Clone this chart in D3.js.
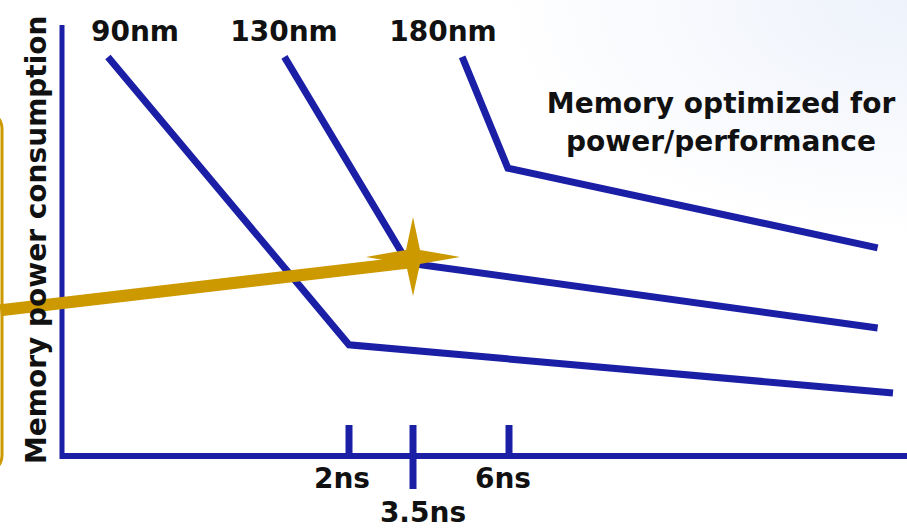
<!DOCTYPE html>
<html><head><meta charset="utf-8">
<script src="https://cdn.jsdelivr.net/npm/d3@7"></script>
<style>html,body{margin:0;padding:0;background:#fff;overflow:hidden}svg{display:block}</style>
</head><body>
<svg id="chart" width="907" height="529"></svg>
<script>
// ---- data (access time in ns, power in arbitrary units) ----
const nodes = ["90nm", "130nm", "180nm"];
const nodeTime  = [[0.32, 2.0, 16.0], [1.55, 3.38, 15.6], [4.78, 5.97, 15.6]];
const nodePower = [[92.6, 25.8, 14.6], [92.6, 44.8, 29.7], [92.6, 66.8, 48.3]];
const tickValues = [2, 3.5, 6];
const tickLabels = ["2ns", "3.5ns", "6ns"];
const goldTime  = [-0.43, 3.5];
const goldPower = [33.8, 45.0];
const starPoint = [3.5, 46.2];
const yLabel = "Memory power consumption";
const noteLines = ["Memory optimized for", "power/performance"];

const W = 907, H = 529;
const BLUE = "#1a1fa6", GOLD = "#cc9a00";
const FONT = "DejaVu Sans";
const svg = d3.select("#chart");

// subtle slide background
const defs = svg.append("defs");
const g1 = defs.append("radialGradient").attr("id","bg").attr("cx","1").attr("cy","0").attr("r","0.45");
g1.append("stop").attr("offset","0").attr("stop-color","#eef2fb");
g1.append("stop").attr("offset","1").attr("stop-color","#ffffff");
svg.append("rect").attr("width",W).attr("height",H).attr("fill","url(#bg)");

const x = d3.scaleLinear().domain([0, 2, 3.5, 6]).range([62, 349, 413, 509]);
const y = d3.scaleLinear().domain([0, 100]).range([456, 25]);

// gold rounded box on left edge
svg.append("rect").attr("x", -200).attr("y", 111).attr("width", 202).attr("height", 362)
  .attr("rx", 18).attr("fill", "none").attr("stroke", GOLD).attr("stroke-width", 3);

// axes
svg.append("line").attr("x1", 62).attr("x2", 62).attr("y1", y(100)).attr("y2", y(0) + 3)
  .attr("stroke", BLUE).attr("stroke-width", 5);
svg.append("line").attr("x1", 60).attr("x2", W).attr("y1", y(0)).attr("y2", y(0))
  .attr("stroke", BLUE).attr("stroke-width", 6);

// ticks
tickValues.forEach((t) => {
  const long = t === 3.5;
  svg.append("line").attr("x1", x(t)).attr("x2", x(t)).attr("y1", 425).attr("y2", long ? 489 : y(0))
    .attr("stroke", BLUE).attr("stroke-width", 7);
});
const tickPos = [[342, 488], [423, 522], [503, 488]];
tickLabels.forEach((l, i) => {
  svg.append("text").attr("x", tickPos[i][0]).attr("y", tickPos[i][1]).attr("text-anchor", "middle")
    .attr("font-family", FONT).attr("font-weight", "bold").attr("font-size", 28)
    .attr("fill", "#111").text(l);
});

// node lines
const line = d3.line().x(d => x(d[0])).y(d => y(d[1]));
nodes.forEach((n, i) => {
  const pts = nodeTime[i].map((t, j) => [t, nodePower[i][j]]);
  svg.append("path").attr("d", line(pts)).attr("fill", "none")
    .attr("stroke", BLUE).attr("stroke-width", 7).attr("stroke-linejoin", "miter");
});

// node labels
const labelX = [135, 284, 443];
nodes.forEach((n, i) => {
  svg.append("text").attr("x", labelX[i]).attr("y", 41).attr("text-anchor", "middle")
    .attr("font-family", FONT).attr("font-weight", "bold").attr("font-size", 28)
    .attr("fill", "#111").text(n);
});

// gold line
svg.append("path").attr("d", line(goldTime.map((t, j) => [t, goldPower[j]])))
  .attr("fill", "none").attr("stroke", GOLD).attr("stroke-width", 12);

// star
const sx = x(starPoint[0]), sy = y(starPoint[1]);
const r = 7;
const star = [[sx, sy - 40], [sx + r, sy - r], [sx + 47, sy], [sx + r, sy + r],
              [sx, sy + 39], [sx - r, sy + r], [sx - 47, sy], [sx - r, sy - r]];
svg.append("path").attr("d", "M" + star.map(p => p.join(",")).join("L") + "Z").attr("fill", GOLD);

// y label
svg.append("text").attr("transform", `translate(46,464) rotate(-90)`)
  .attr("font-family", FONT).attr("font-weight", "bold").attr("font-size", 28)
  .attr("fill", "#111").text(yLabel);

// note
noteLines.forEach((l, i) => {
  svg.append("text").attr("x", 721).attr("y", 113 + i * 38).attr("text-anchor", "middle")
    .attr("font-family", FONT).attr("font-weight", "bold").attr("font-size", 28)
    .attr("fill", "#111").text(l);
});
</script>
</body></html>
